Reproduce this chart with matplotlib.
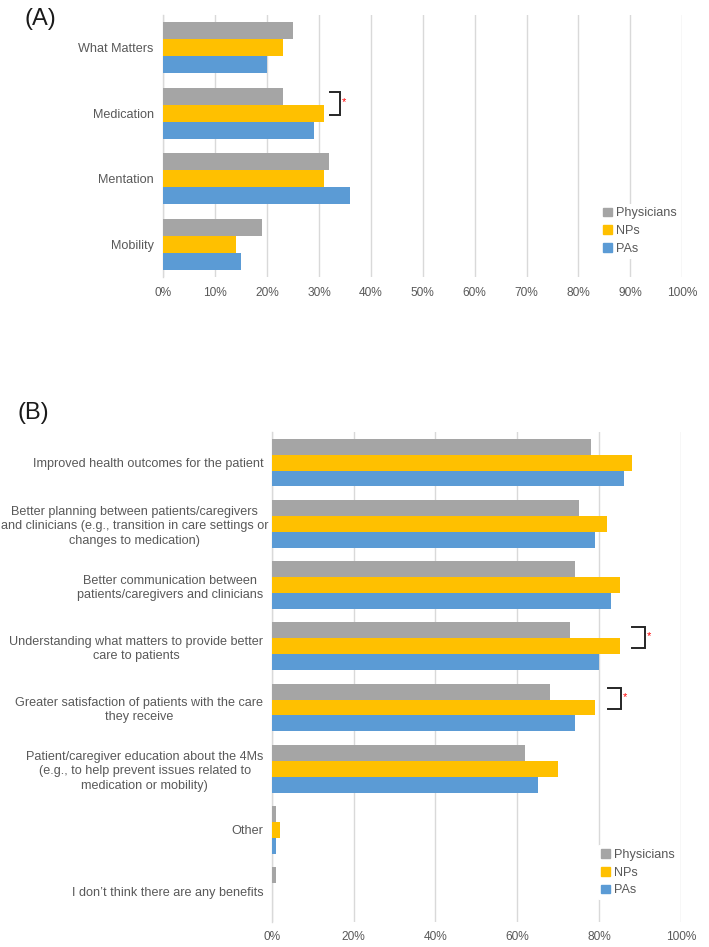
import matplotlib
matplotlib.use("Agg")
import matplotlib.pyplot as plt
import matplotlib.transforms as mtransforms
from matplotlib.patches import Patch
import numpy as np

plt.rcParams["font.family"] = ["Liberation Sans", "DejaVu Sans"]

TXT = "#595959"
GRID = "#d9d9d9"
C_PHYS = "#a5a5a5"
C_NP = "#ffc000"
C_PA = "#5b9bd5"

# panel A: 4Ms focus
cats_a = ["What Matters", "Medication", "Mentation", "Mobility"]
phys_a = [25, 23, 32, 19]
nps_a = [23, 31, 31, 14]
pas_a = [20, 29, 36, 15]

# panel B: perceived benefits
cats_b = [
    "Improved health outcomes for the patient",
    "Better planning between patients/caregivers\nand clinicians (e.g., transition in care settings or\nchanges to medication)",
    "Better communication between\npatients/caregivers and clinicians",
    "Understanding what matters to provide better\ncare to patients",
    "Greater satisfaction of patients with the care\nthey receive",
    "Patient/caregiver education about the 4Ms\n(e.g., to help prevent issues related to\nmedication or mobility)",
    "Other",
    "I don\u2019t think there are any benefits",
]
phys_b = [78, 75, 74, 73, 68, 62, 1, 1]
nps_b = [88, 82, 85, 85, 79, 70, 2, 0]
pas_b = [86, 79, 83, 80, 74, 65, 1, 0]

# significance brackets: (category index, left x %, right x %)
sig_a = [(1, 32.1, 34.0)]
sig_b = [(3, 88.1, 91.3), (4, 82.1, 85.3)]

BW = 0.26
FS = 9.1
FS_TICK = 8.6


def panel(ax, cats, series, xticks, sig, leg_anchor, pad):
    y = np.arange(len(cats))
    for k, (vals, col) in enumerate(series):
        ax.barh(y + (k - 1) * BW, np.array(vals) / 100, height=BW, color=col,
                edgecolor="none", zorder=3)
    ax.set_xlim(0, 1)
    ax.set_ylim(len(cats) - 0.5, -0.5)
    ax.set_yticks(y)
    ax.set_yticklabels(cats, fontsize=FS, color=TXT, ha="right",
                       multialignment="center", linespacing=1.25)
    ax.set_xticks(np.array(xticks) / 100)
    ax.set_xticklabels([f"{t}%" for t in xticks], fontsize=FS_TICK, color=TXT)
    ax.tick_params(axis="both", length=0)
    ax.tick_params(axis="y", pad=pad)
    ax.tick_params(axis="x", pad=7)
    ax.grid(axis="x", color=GRID, lw=1.0, zorder=0)
    for s in ["top", "right", "bottom"]:
        ax.spines[s].set_visible(False)
    ax.spines["left"].set_color(GRID)
    ax.spines["left"].set_linewidth(1.0)
    for i, x0, x1 in sig:
        x0, x1 = x0 / 100, x1 / 100
        yt, yb = i - 0.32, i + 0.03
        ax.plot([x0, x1, x1, x0], [yt, yt, yb, yb], color="#262626", lw=1.4,
                zorder=4, solid_joinstyle="miter")
        ax.text(x1 + 0.004, i - 0.17, "*", color="red", fontsize=8,
                ha="left", va="center", zorder=5)
    handles = [Patch(color=c) for _, c in series]
    leg = ax.legend(handles, ["Physicians", "NPs", "PAs"], loc="center left",
                    bbox_to_anchor=leg_anchor, fontsize=FS, frameon=True,
                    framealpha=1, edgecolor="none", facecolor="white",
                    handlelength=0.7, handleheight=0.7, handletextpad=0.35,
                    labelspacing=0.45, borderpad=0.3, borderaxespad=0)
    for t in leg.get_texts():
        t.set_color(TXT)
    leg.set_zorder(6)


fig = plt.figure(figsize=(7.09, 9.47), dpi=100)
ax_a = fig.add_axes([0.2306, 0.7075, 0.7316, 0.2767])
ax_b = fig.add_axes([0.3832, 0.0267, 0.5773, 0.5171])

panel(ax_a, cats_a, [(phys_a, C_PHYS), (nps_a, C_NP), (pas_a, C_PA)],
      list(range(0, 101, 10)), sig_a, (0.84, 0.175), 7)
panel(ax_b, cats_b, [(phys_b, C_PHYS), (nps_b, C_NP), (pas_b, C_PA)],
      list(range(0, 101, 20)), sig_b, (0.795, 0.1), 6)

# the widest label sits a little closer to the axis, as in the original
wide = ax_b.get_yticklabels()[1]
wide.set_transform(wide.get_transform() +
                   mtransforms.ScaledTranslation(3.5 / 72, 0, fig.dpi_scale_trans))

fig.text(0.034, 0.980, "(A)", fontsize=17, color="#1a1a1a", ha="left", va="center")
fig.text(0.024, 0.564, "(B)", fontsize=17, color="#1a1a1a", ha="left", va="center")

fig.savefig("out.png", dpi=100)
